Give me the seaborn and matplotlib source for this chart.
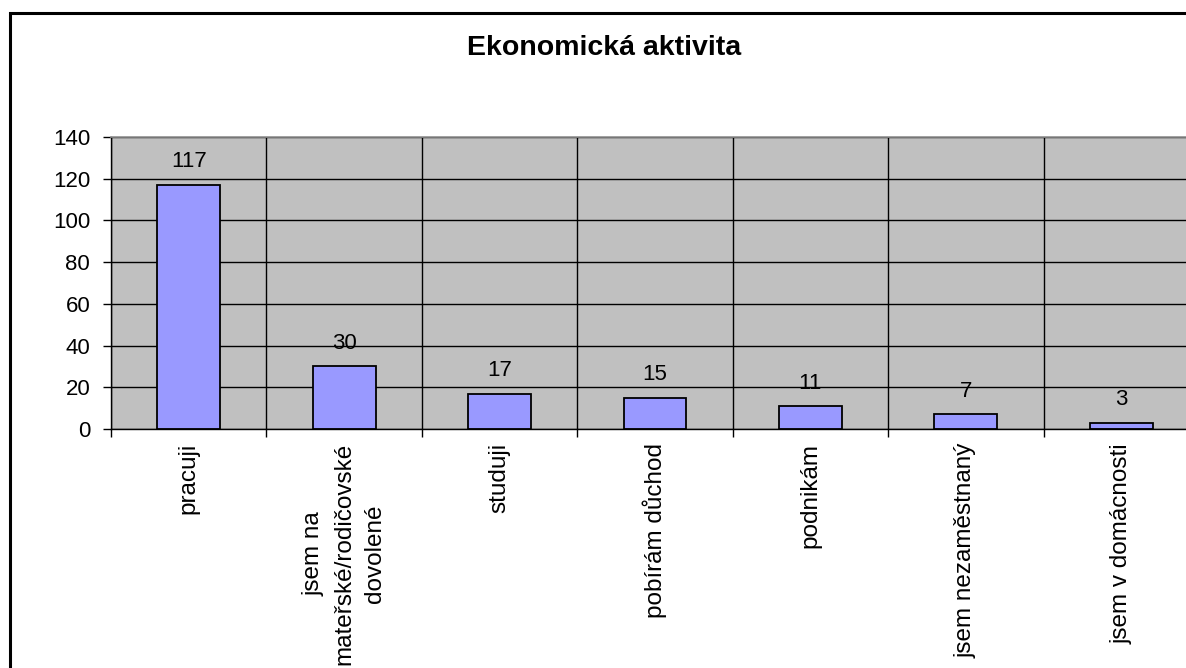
import numpy as np
import matplotlib
matplotlib.use("Agg")
import matplotlib.pyplot as plt
from matplotlib.patches import Rectangle
import seaborn as sns

# data
categories = ["pracuji",
              "jsem na\nmateřské/rodičovské\ndovolené",
              "studuji",
              "pobírám důchod",
              "podnikám",
              "jsem nezaměstnaný",
              "jsem v domácnosti"]
counts = [117, 30, 17, 15, 11, 7, 3]
y_ticks = [0, 20, 40, 60, 80, 100, 120, 140]
title = "Ekonomická aktivita"

sns.set_style("white")
plt.rcParams['font.family'] = ['Liberation Sans', 'DejaVu Sans']
plt.rcParams['text.color'] = 'black'
plt.rcParams['xtick.color'] = 'black'
plt.rcParams['ytick.color'] = 'black'

fig = plt.figure(figsize=(11.86, 6.68), dpi=100)
fig.patch.set_facecolor("white")
ax = fig.add_axes([111 / 1186, 1 - 429 / 668, 1088 / 1186, 292 / 668])
ax.set_facecolor("#C0C0C0")

sns.barplot(x=categories, y=counts, color="#9999FF", saturation=1,
            edgecolor="black", linewidth=1.3, width=0.405, ax=ax)

ax.bar_label(ax.containers[0], padding=9, fontsize=16, color="black")

ax.set_ylim(0, 140)
ax.set_xlim(-0.5, len(categories) - 0.5)
ax.set_yticks(y_ticks)
ax.set_yticklabels([str(v) for v in y_ticks], fontsize=16)
ax.set_xticks(np.arange(len(categories)))
ax.set_xticklabels(categories, rotation=90, fontsize=17.5,
                   multialignment="center", va="top", ha="center",
                   linespacing=1.5)
ax.set_xticks(np.arange(-0.5, len(categories), 1), minor=True)

ax.set_axisbelow(True)
ax.grid(axis="y", which="major", color="black", linewidth=1)
ax.grid(axis="x", which="minor", color="black", linewidth=1)
ax.grid(axis="x", which="major", visible=False)

ax.tick_params(axis="x", which="major", length=0, pad=10)
ax.tick_params(axis="x", which="minor", length=6, width=1, color="black",
               direction="out", bottom=True)
ax.tick_params(axis="y", which="major", length=6, width=1, color="black",
               direction="out", left=True, pad=9)

ax.set_xlabel("")
ax.set_ylabel("")
for side in ["left", "bottom"]:
    ax.spines[side].set_color("black")
    ax.spines[side].set_linewidth(1)
ax.spines["top"].set_color("#909090")
ax.spines["top"].set_linewidth(1.2)
ax.spines["right"].set_color("#909090")

fig.text(0.509, 1 - 48 / 668, title, ha="center", va="center",
         fontsize=20.5, fontweight="bold", color="black")

# outer chart border (runs off the right and bottom edges)
fig.patches.append(Rectangle((9.5 / 1186, -0.2), 1.5, 1.2 - 12.5 / 668,
                             transform=fig.transFigure, fill=False,
                             edgecolor="black", linewidth=2.2, clip_on=False))

fig.savefig("out.png", dpi=100)
